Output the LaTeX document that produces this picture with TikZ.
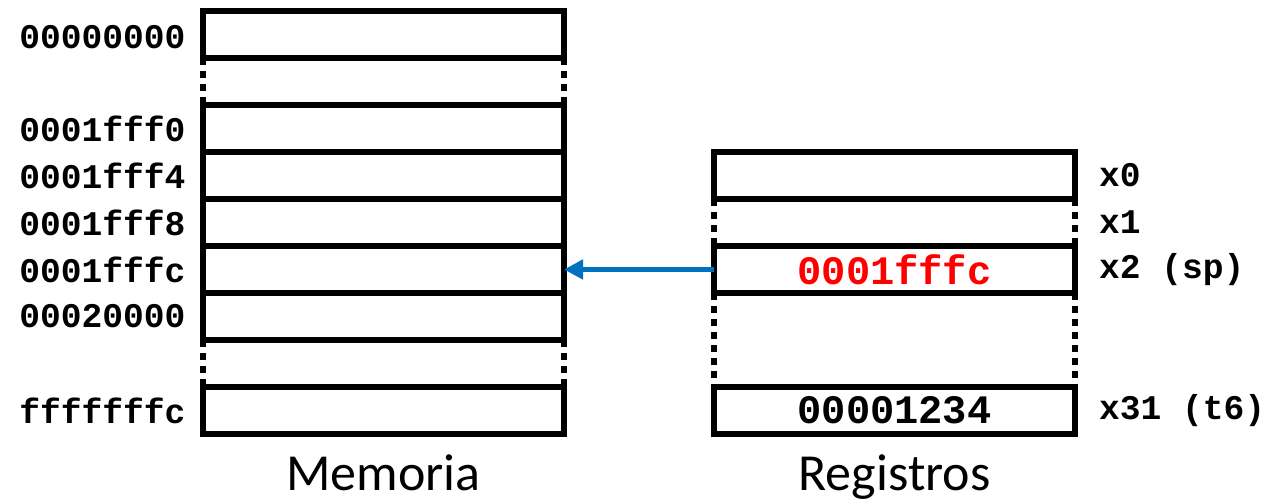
\documentclass[tikz,border=0pt]{standalone}
\usepackage{fontspec}
\setmainfont{Carlito}
\setmonofont{Liberation Mono}
\usetikzlibrary{positioning, arrows.meta, calc}

\definecolor{arrowblue}{RGB}{0,112,192}

\begin{document}
\begin{tikzpicture}[
    x=0.5pt, y=-0.5pt,
    cell/.style={
        draw,
        rectangle,
        line width=3pt,
        outer sep=0pt,
        minimum width=180.5pt,
        minimum height=23.5pt,
        font=\ttfamily\bfseries\fontsize{20.2}{24}\selectfont
    },
    gapline/.style={line width=3pt, dash pattern=on 3.5pt off 3pt},
    addr/.style={font=\ttfamily\bfseries\fontsize{17.3}{20}\selectfont},
    reglabel/.style={font=\ttfamily\bfseries\fontsize{17.3}{20}\selectfont},
    title/.style={font=\fontsize{26}{30}\selectfont, inner sep=0pt},
    pointer/.style={-{Triangle[length=9.5pt, width=9.5pt]}, line width=2.5pt, arrowblue}
]
\useasboundingbox (0,0) rectangle (1283,503);

% Memory cells
\node[cell] (mem0) at (383.5,34.5) {};
\node[cell, below=23.5pt of mem0] (mem1) {};
\node[cell, below=0pt of mem1] (mem2) {};
\node[cell, below=0pt of mem2] (mem3) {};
\node[cell, below=0pt of mem3] (mem4) {};
\node[cell, below=0pt of mem4] (mem5) {};
\node[cell, below=23.5pt of mem5] (mem6) {};

% Dotted gaps in memory
\draw[gapline] (mem0.south west) -- (mem1.north west);
\draw[gapline] (mem0.south east) -- (mem1.north east);
\draw[gapline] (mem5.south west) -- (mem6.north west);
\draw[gapline] (mem5.south east) -- (mem6.north east);

% Addresses
\node[addr, left=5.2pt of mem0, yshift=-1.5pt] (a0) {00000000};
\node[addr, left=5.2pt of mem1] (a1) {0001fff0};
\node[addr, left=5.2pt of mem2] (a2) {0001fff4};
\node[addr, left=5.2pt of mem3] (a3) {0001fff8};
\node[addr, left=5.2pt of mem4] (a4) {0001fffc};
\node[addr, left=5.2pt of mem5] (a5) {00020000};
\node[addr, left=5.2pt of mem6] (a6) {fffffffc};

% Registers
\node[cell, right=75pt of mem2] (reg0) {};
\node[cell, below=23.5pt of reg0, text=red] (reg2) {0001fffc};
\node[cell, below=47pt of reg2] (reg31) {00001234};

% Dotted gaps in registers
\draw[gapline] (reg0.south west) -- (reg2.north west);
\draw[gapline] (reg0.south east) -- (reg2.north east);
\draw[gapline] (reg2.south west) -- (reg31.north west);
\draw[gapline] (reg2.south east) -- (reg31.north east);

% Register names
\coordinate (gap1) at ($(reg0.south east)!0.5!(reg2.north east)$);
\node[reglabel, right=8.5pt of reg0] (lx0) {x0};
\node[reglabel, right=8.5pt of gap1] (lx1) {x1};
\node[reglabel, right=8.5pt of reg2] (lx2) {x2 (sp)};
\node[reglabel, right=8.5pt of reg31] (lx31) {x31 (t6)};

% Stack pointer
\draw[pointer] (reg2.west) -- (mem4.east);

% Titles
\node[title, below=10.3pt of mem6] (memtitle) {Memoria};
\node[title, below=10.3pt of reg31] (regtitle) {Registros};

\end{tikzpicture}
\end{document}
